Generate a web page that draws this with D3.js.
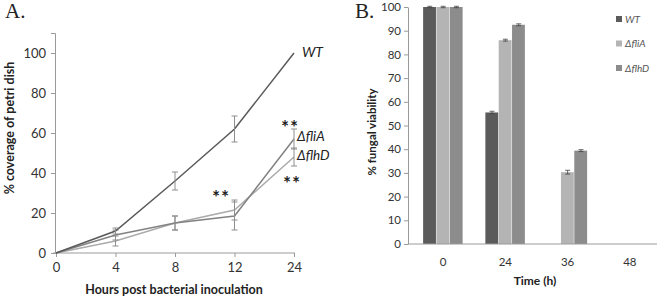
<!DOCTYPE html>
<html>
<head>
<meta charset="utf-8">
<script src="https://cdn.jsdelivr.net/npm/d3@7"></script>
<style>
  body { margin: 0; background: #fff; }
  svg { display: block; }
  .axis path, .axis line { stroke: #9a9a9a; }
  .axis text { fill: #333; font-family: Lato, "Open Sans", sans-serif; }
</style>
</head>
<body>
<div id="chart"></div>
<script>
// panel A: % coverage of petri dish
var hoursA = ["0", "4", "8", "12", "24"];
var coverWT = [0, 11, 36, 62, 100];
var coverWTErr = [0, 1.5, 4.5, 6.5, 0];
var coverFliA = [0, 9, 15, 18.5, 57];
var coverFliAErr = [0, 2.5, 3.5, 7, 5];
var coverFlhD = [0, 6, 15, 21.5, 48];
var coverFlhDErr = [0, 2.5, 3.5, 5, 4.5];
var ticksA = [0, 20, 40, 60, 80, 100];

// panel B: % fungal viability
var timeB = ["0", "24", "36", "48"];
var strains = ["WT", "ΔfliA", "ΔflhD"];
var viaWT = [100, 55.5, 0, 0];
var viaFliA = [100, 86, 30.3, 0];
var viaFlhD = [100, 92.5, 39.4, 0];
var viaWTErr = [0.3, 0.5, 0, 0];
var viaFliAErr = [0.3, 0.4, 0.8, 0];
var viaFlhDErr = [0.3, 0.4, 0.4, 0];
var ticksB = d3.range(0, 101, 10);

var font = 'Lato, "Open Sans", sans-serif';

var svg = d3.select('#chart').append('svg')
  .attr('width', 660)
  .attr('height', 298);

// ---------- A ----------
var xA = d3.scalePoint().domain(hoursA).range([56, 294]);
var yA = d3.scaleLinear().domain([0, 110]).range([253, 33]);

svg.append('g').attr('class', 'axis')
  .attr('transform', 'translate(55,0)')
  .call(d3.axisLeft(yA).tickValues(ticksA).tickSize(4).tickPadding(5))
  .call(function(g) { g.selectAll('text').attr('font-size', 13); });

svg.append('g').attr('class', 'axis')
  .attr('transform', 'translate(0,253)')
  .call(d3.axisBottom(xA).tickSize(4).tickPadding(6).tickSizeOuter(0))
  .call(function(g) {
    g.select('.domain').attr('d', 'M53,0H295');
    g.selectAll('text').attr('font-size', 13);
  });

var seriesA = [
  { vals: coverFlhD, err: coverFlhDErr, color: '#ababab' },
  { vals: coverFliA, err: coverFliAErr, color: '#828282' },
  { vals: coverWT, err: coverWTErr, color: '#5a5a5a' }
];

var line = d3.line()
  .x(function(d, i) { return xA(hoursA[i]); })
  .y(function(d) { return yA(d); });

seriesA.forEach(function(s) {
  svg.append('path')
    .attr('d', line(s.vals))
    .attr('fill', 'none')
    .attr('stroke', s.color)
    .attr('stroke-width', 1.5);
  var eb = svg.append('g');
  s.vals.forEach(function(v, i) {
    if (!s.err[i]) return;
    var x = xA(hoursA[i]);
    var y1 = yA(v - s.err[i]), y2 = yA(v + s.err[i]);
    eb.append('path')
      .attr('d', 'M' + x + ',' + y1 + 'V' + y2 + 'M' + (x - 3) + ',' + y1 + 'H' + (x + 3) + 'M' + (x - 3) + ',' + y2 + 'H' + (x + 3))
      .attr('fill', 'none')
      .attr('stroke', '#8e8e8e')
      .attr('stroke-width', 1);
  });
});

svg.append('text')
  .attr('x', 174).attr('y', 294)
  .attr('text-anchor', 'middle')
  .attr('font-family', font).attr('font-weight', 'bold').attr('font-size', 12.5)
  .attr('fill', '#222')
  .text('Hours post bacterial inoculation');

svg.append('text')
  .attr('transform', 'translate(14,128) rotate(-90)')
  .attr('text-anchor', 'middle')
  .attr('font-family', font).attr('font-weight', 'bold').attr('font-size', 12.5)
  .attr('fill', '#222')
  .text('% coverage of petri dish');

// series labels and significance marks
var annA = [
  { t: 'WT', x: 302, y: 57, size: 14 },
  { t: 'ΔfliA', x: 297, y: 141, size: 13.5 },
  { t: 'ΔflhD', x: 297, y: 160, size: 13.5 }
];
annA.forEach(function(a) {
  svg.append('text')
    .attr('x', a.x).attr('y', a.y)
    .attr('font-family', font).attr('font-style', 'italic').attr('font-size', a.size)
    .attr('fill', '#222')
    .text(a.t);
});
[[290, 134], [292, 190], [221, 204]].forEach(function(p) {
  svg.append('text')
    .attr('x', p[0]).attr('y', p[1])
    .attr('text-anchor', 'middle')
    .attr('font-family', font).attr('font-weight', 'bold').attr('font-size', 19)
    .attr('letter-spacing', 1)
    .attr('fill', '#222')
    .text('**');
});

svg.append('text')
  .attr('x', 5).attr('y', 18)
  .attr('font-family', '"Liberation Serif", serif').attr('font-size', 21)
  .attr('fill', '#222')
  .text('A.');

// ---------- B ----------
var xB = d3.scaleBand().domain(timeB).range([412, 661]);
var xSub = d3.scaleBand().domain(strains).range([0, 40]);
var yB = d3.scaleLinear().domain([0, 100]).range([244, 7]);
var colorsB = ['#5b5b5b', '#b4b4b4', '#8c8c8c'];
var valsB = [viaWT, viaFliA, viaFlhD];
var errsB = [viaWTErr, viaFliAErr, viaFlhDErr];

svg.append('g').attr('class', 'axis')
  .attr('transform', 'translate(408,0)')
  .call(d3.axisLeft(yB).tickValues(ticksB).tickSize(4).tickPadding(3).tickSizeOuter(0))
  .call(function(g) { g.selectAll('text').attr('font-size', 11.5); });

var groups = svg.append('g').selectAll('g')
  .data(timeB)
  .enter().append('g')
  .attr('transform', function(d) { return 'translate(' + (xB(d) + xB.bandwidth() / 2 - 20) + ',0)'; });

strains.forEach(function(s, k) {
  groups.append('rect')
    .attr('x', xSub(s))
    .attr('width', xSub.bandwidth() - 0.5)
    .attr('y', function(d, i) { return yB(valsB[k][i]); })
    .attr('height', function(d, i) { return yB(0) - yB(valsB[k][i]); })
    .attr('fill', colorsB[k]);
  groups.append('path')
    .attr('d', function(d, i) {
      var v = valsB[k][i], e = errsB[k][i];
      if (!v) return null;
      var x = xSub(s) + xSub.bandwidth() / 2;
      var y1 = yB(v - e), y2 = yB(v + e);
      return 'M' + x + ',' + y1 + 'V' + y2 + 'M' + (x - 2.5) + ',' + y1 + 'H' + (x + 2.5) + 'M' + (x - 2.5) + ',' + y2 + 'H' + (x + 2.5);
    })
    .attr('fill', 'none')
    .attr('stroke', '#444')
    .attr('stroke-width', 0.8);
});

svg.append('g').attr('class', 'axis')
  .attr('transform', 'translate(0,244)')
  .call(d3.axisBottom(xB).tickSize(0).tickPadding(14))
  .call(function(g) {
    g.select('.domain').attr('d', 'M408,0H657');
    g.selectAll('text').attr('font-size', 11.5);
  });

svg.append('text')
  .attr('x', 535).attr('y', 285)
  .attr('text-anchor', 'middle')
  .attr('font-family', font).attr('font-weight', 'bold').attr('font-size', 12)
  .attr('fill', '#222')
  .text('Time (h)');

svg.append('text')
  .attr('transform', 'translate(376,132) rotate(-90)')
  .attr('text-anchor', 'middle')
  .attr('font-family', font).attr('font-weight', 'bold').attr('font-size', 11.5)
  .attr('fill', '#222')
  .text('% fungal viability');

var legend = svg.append('g').selectAll('g')
  .data(strains)
  .enter().append('g')
  .attr('transform', function(d, i) { return 'translate(616,' + (19 + i * 24.5) + ')'; });
legend.append('rect')
  .attr('x', 0).attr('y', -3).attr('width', 6).attr('height', 6)
  .attr('fill', function(d, i) { return colorsB[i]; });
legend.append('text')
  .attr('x', 9).attr('y', 0).attr('dy', '0.35em')
  .attr('font-family', font).attr('font-style', 'italic').attr('font-size', 10)
  .attr('fill', '#555')
  .text(function(d) { return d; });

svg.append('text')
  .attr('x', 355).attr('y', 18)
  .attr('font-family', '"Liberation Serif", serif').attr('font-size', 21)
  .attr('fill', '#222')
  .text('B.');
</script>
</body>
</html>
